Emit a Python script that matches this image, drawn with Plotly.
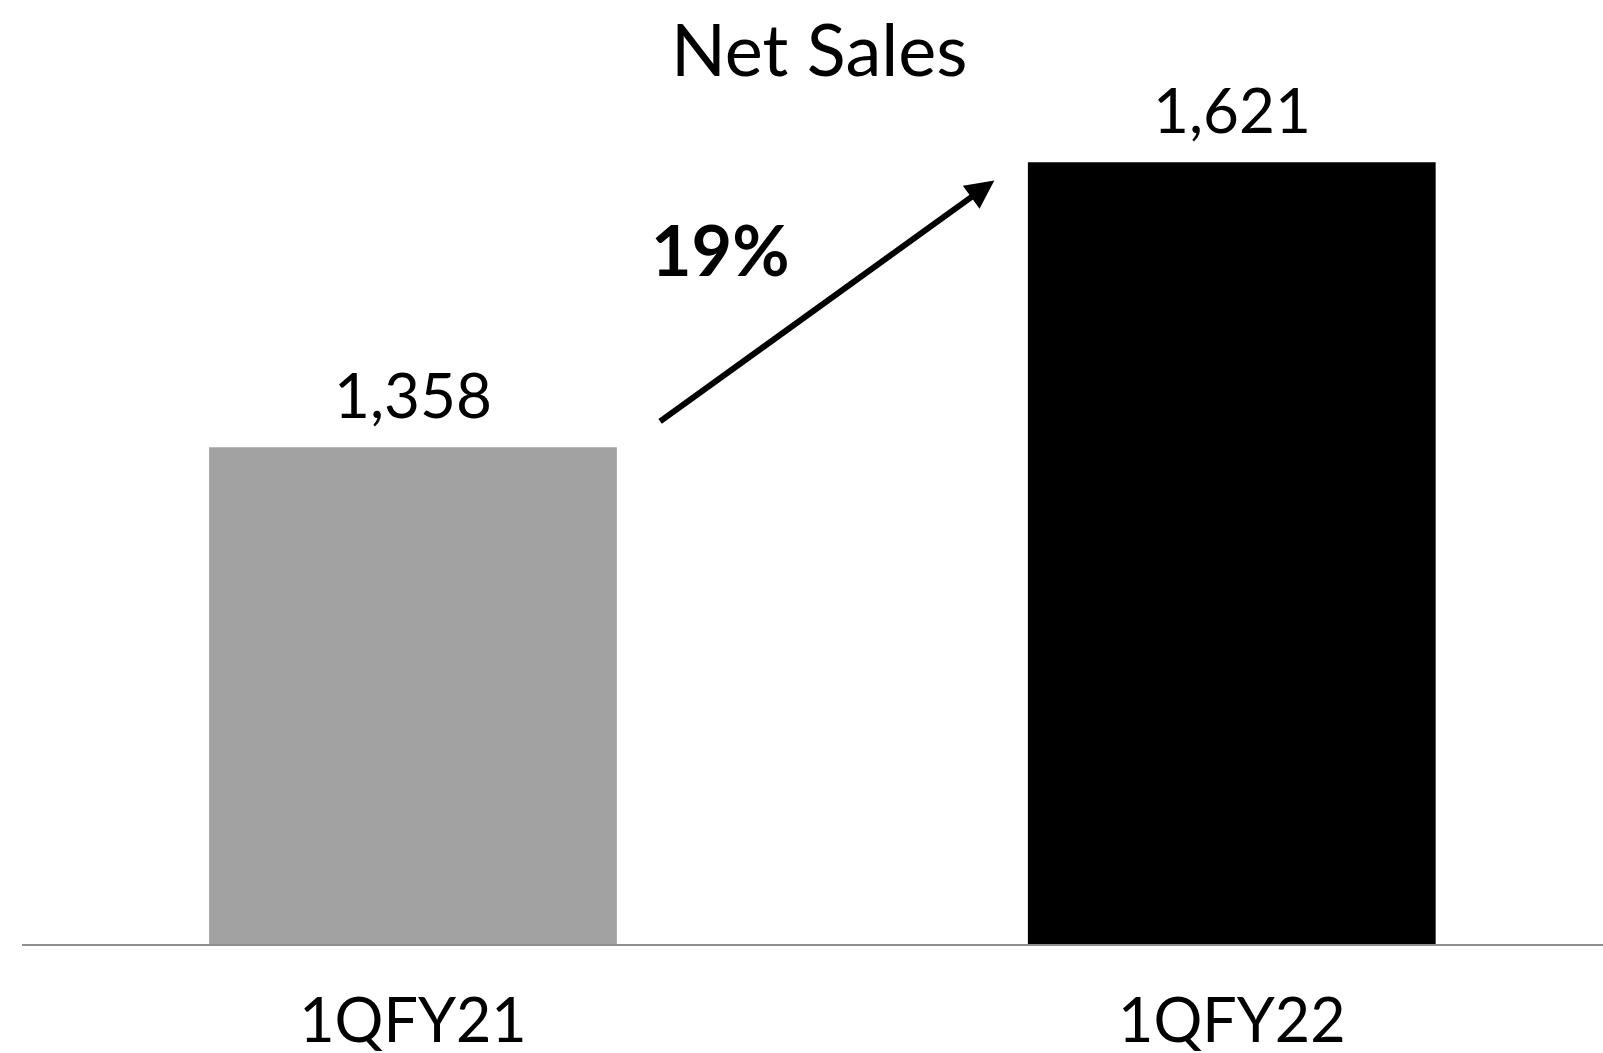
import plotly.graph_objects as go

# Quarterly net sales
quarters = ["1QFY21", "1QFY22"]
net_sales = [1358, 1621]
bar_colors = ["#A2A2A2", "#000000"]
growth_label = "19%"
chart_title = "Net Sales"

W, H = 1603, 1053
FONT = "Lato"

left, bottom = 22, 109
plot_w = W - left
plot_h = H - bottom
px_per_unit = 1.0844
y_min = 900

fig = go.Figure()
fig.add_trace(go.Bar(
    x=quarters,
    y=net_sales,
    width=0.498,
    marker=dict(color=bar_colors, line=dict(width=0)),
    hoverinfo="skip",
))

# value labels above each bar
for q, v in zip(quarters, net_sales):
    fig.add_annotation(
        x=q, y=v, text=f"{v:,}", showarrow=False,
        xanchor="center", yanchor="bottom", yshift=14,
        font=dict(family=FONT, size=62, color="#000000"),
    )

# growth arrow between the two bars
fig.add_annotation(
    x=0.71, y=1604, ax=0.30, ay=1381,
    xref="x", yref="y", axref="x", ayref="y",
    text="", showarrow=True,
    arrowhead=2, arrowsize=0.95, arrowwidth=6, arrowcolor="#000000",
)
fig.add_annotation(
    x=0.375, y=1541, xref="x", yref="y", text=f"<b>{growth_label}</b>",
    showarrow=False, xanchor="center", yanchor="middle",
    font=dict(family=FONT, size=70, color="#000000"),
)

# chart heading
fig.add_annotation(
    x=(819 - left) / plot_w, xref="paper",
    y=y_min + (plot_h - 48) / px_per_unit, yref="y",
    text=chart_title, showarrow=False, xanchor="center", yanchor="middle",
    font=dict(family=FONT, size=72, color="#000000"),
)

fig.update_layout(
    width=W, height=H,
    margin=dict(l=left, r=0, t=0, b=bottom, pad=0, autoexpand=False),
    paper_bgcolor="white", plot_bgcolor="white",
    showlegend=False,
    xaxis=dict(
        type="category",
        range=[-0.4775, -0.4775 + plot_w / 818.8],
        showgrid=False, zeroline=False, automargin=False,
        showline=True, linecolor="#8E8E8E", linewidth=2,
        ticks="", ticklabelstandoff=23,
        tickfont=dict(family=FONT, size=61, color="#000000"),
    ),
    yaxis=dict(
        range=[y_min, y_min + plot_h / px_per_unit],
        visible=False, showgrid=False, zeroline=False, automargin=False,
    ),
)

fig.write_html("out.html")
